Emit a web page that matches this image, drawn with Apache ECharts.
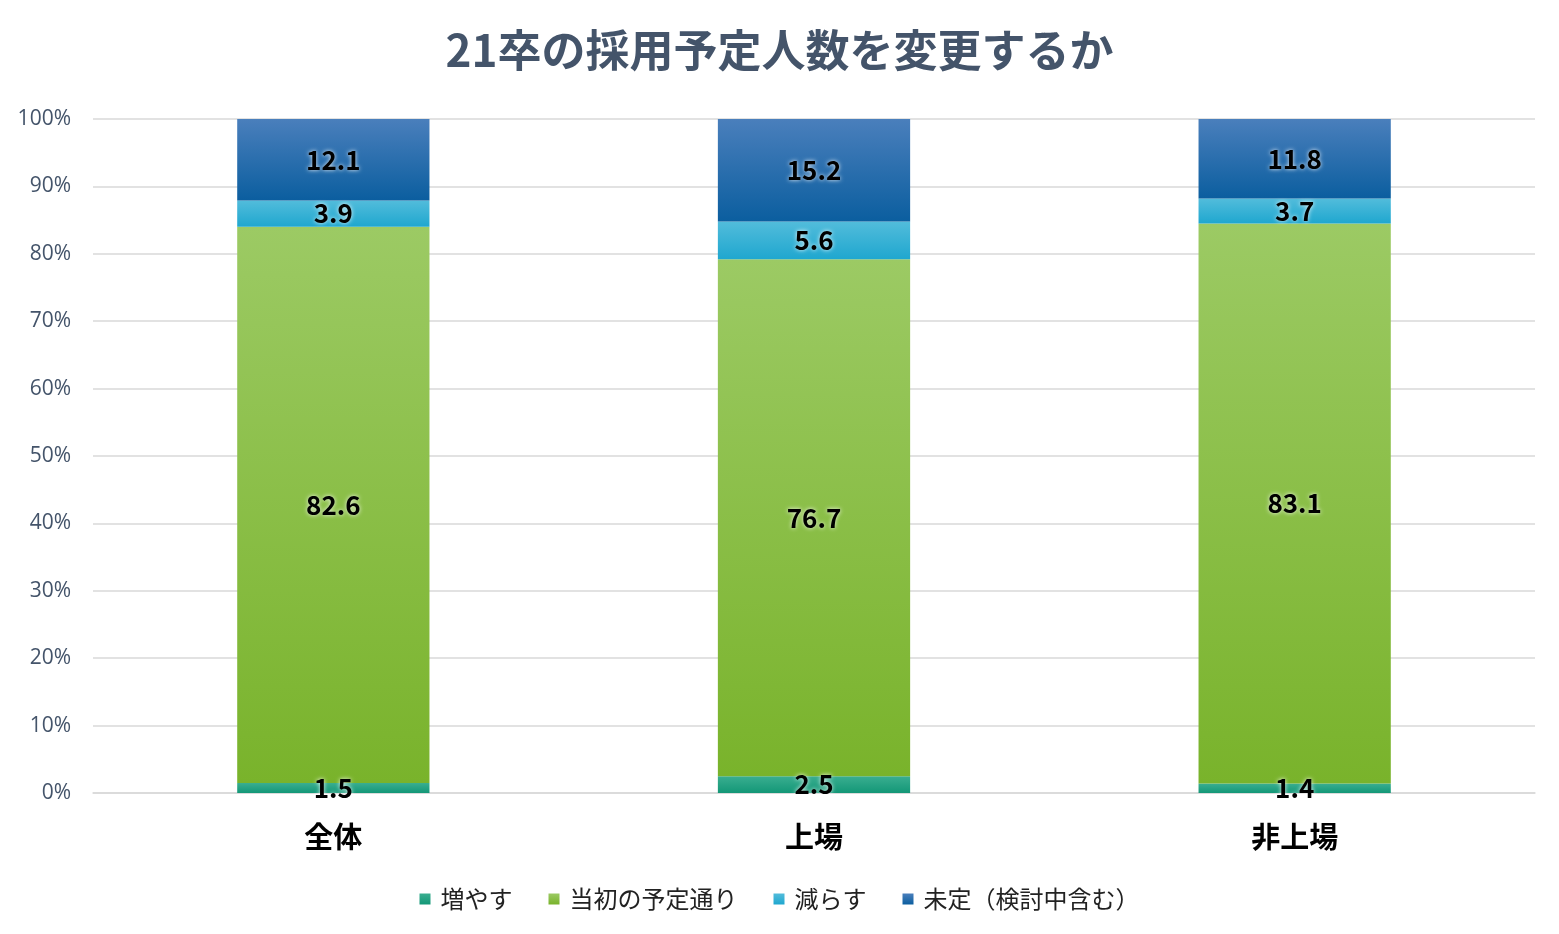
<!DOCTYPE html>
<html><head><meta charset="utf-8">
<script src="https://cdn.jsdelivr.net/npm/echarts@6/dist/echarts.min.js"></script>
<style>html,body{margin:0;padding:0;background:#fff}#c{width:1559px;height:934px}</style>
</head><body><div id="c"></div>
<script>
const categories = ['全体', '上場', '非上場'];
const seriesNames = ['増やす', '当初の予定通り', '減らす', '未定（検討中含む）'];
const increase = [1.5, 2.5, 1.4];
const asPlanned = [82.6, 76.7, 83.1];
const decrease = [3.9, 5.6, 3.7];
const undecided = [12.1, 15.2, 11.8];
const yTicks = [0, 10, 20, 30, 40, 50, 60, 70, 80, 90, 100];

const raw = [increase, asPlanned, decrease, undecided];
const totals = categories.map((_, i) => raw.reduce((s, a) => s + a[i], 0));
const grads = [
  ['#3AAE90', '#139777'],
  ['#9CCA64', '#79B32B'],
  ['#52BCDB', '#1FA7CF'],
  ['#4A7FBC', '#0B5E9F']
];
const fontJP = '"Noto Sans CJK JP", "Noto Sans", sans-serif';
const series = raw.map((arr, k) => ({
  name: seriesNames[k],
  type: 'bar',
  stack: 'all',
  barWidth: '40%',
  data: arr.map((v, i) => ({ value: v / totals[i] * 100, raw: v })),
  itemStyle: {
    color: new echarts.graphic.LinearGradient(0, 0, 0, 1, [
      { offset: 0, color: grads[k][0] }, { offset: 1, color: grads[k][1] }
    ])
  },
  label: {
    show: true,
    position: 'inside',
    formatter: p => p.data.raw.toFixed(1),
    color: '#000',
    fontWeight: 'bold',
    fontSize: 26,
    fontFamily: fontJP,
    textShadowColor: 'rgba(255,255,255,0.9)',
    textShadowBlur: 4
  }
}));

const chart = echarts.init(document.getElementById('c'));
chart.setOption({
  animation: false,
  title: {
    text: '21卒の採用予定人数を変更するか',
    left: 'center', top: 23,
    textStyle: { color: '#44546A', fontSize: 44, fontWeight: 'bold', fontFamily: fontJP }
  },
  legend: {
    bottom: 18, left: 'center',
    itemWidth: 11, itemHeight: 11, itemGap: 36,
    icon: 'rect',
    textStyle: { fontSize: 24, color: '#222', fontFamily: fontJP, padding: [0, 0, 0, 5] },
    data: seriesNames
  },
  grid: { left: 93, right: 24, top: 119, bottom: 141 },
  xAxis: {
    type: 'category', data: categories,
    axisTick: { show: false },
    axisLine: { lineStyle: { color: '#D9D9D9', width: 1.5 } },
    axisLabel: { fontSize: 29, fontWeight: 'bold', color: '#000', margin: 29, fontFamily: fontJP }
  },
  yAxis: {
    type: 'value', min: 0, max: 100, interval: 10,
    axisLabel: {
      formatter: v => yTicks.includes(v) ? v + '%' : '',
      fontSize: 21, color: '#44546A', margin: 22, fontFamily: '"Open Sans", sans-serif'
    },
    splitLine: { lineStyle: { color: '#D9D9D9', width: 1.5 } },
    axisLine: { show: false }, axisTick: { show: false }
  },
  series
});
</script></body></html>
